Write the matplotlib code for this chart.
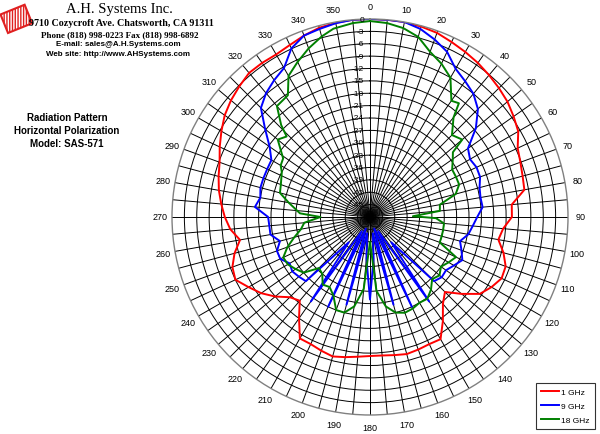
import numpy as np
import matplotlib.pyplot as plt
from matplotlib.patches import Rectangle
from matplotlib.transforms import offset_copy

# 1 GHz
ang_1 = [0, 5, 10, 15, 20, 25, 30, 35, 40, 45, 50, 55, 60, 65, 70, 75, 80, 85,
         90, 95, 100, 105, 110, 115, 120, 125, 130, 135, 140, 145, 150, 155, 160,
         165, 170, 175, 180, 185, 190, 195, 200, 205, 210, 215, 220, 225, 230,
         235, 240, 245, 250, 255, 260, 265, 270, 275, 280, 285, 290, 295, 300,
         305, 310, 315, 320, 325, 330, 335, 340, 345, 350, 355]
db_1 = [0, 0, 0, -0.2, -0.5, -1.2, -1.8, -2.4, -3.1, -3.8, -4.5, -5.5, -6.5, -8.5,
        -9.2, -9.7, -10, -13.5, -13.6, -15.6, -16.4, -14.5, -13, -12.8, -14, -15.5,
        -19, -22.3, -20.5, -17.2, -13.8, -14, -13.8, -13.6, -14, -14.3, -14.3, -14,
        -13.5, -13, -13.5, -14, -14, -18, -21.5, -20.5, -18, -15.8, -14, -12, -12.5,
        -14, -16, -14, -12.8, -11.8, -10.8, -10, -9.2, -7.8, -6.4, -5, -4, -3.2,
        -2.4, -2.4, -2.5, -2, -1.2, -0.5, -0.2, 0]

# 9 GHz
ang_9 = [0, 5, 10, 15, 20, 25, 30, 35, 40, 45, 50, 55, 60, 65, 70, 75, 80, 85,
         90, 95, 100, 105, 110, 115, 120, 125, 130, 135, 140, 145, 150, 155, 160,
         165, 170, 175, 180, 185, 190, 195, 200, 205, 210, 215, 220, 225, 230,
         235, 240, 245, 250, 255, 260, 265, 270, 275, 280, 285, 290, 295, 300,
         305, 310, 315, 320, 325, 330, 335, 340, 345, 350, 355]
db_9 = [0, 0, 0, -0.8, -2.2, -3.8, -6.5, -7.8, -9, -11, -14.5, -19, -20, -19.5,
        -19.6, -20.5, -20.8, -20.6, -22, -23, -23.8, -25.4, -24.4, -23.3, -24.5,
        -25.5, -25.3, -26, -40, -23, -44, -24, -45, -26, -44, -38, -28, -38, -44,
        -26, -45, -24, -44, -23, -40, -26, -25.5, -25, -25.5, -24, -24, -25.4,
        -23.5, -23.5, -23.3, -20, -21, -20.5, -20.5, -20.5, -20.4, -18.3, -14.8,
        -10.6, -8.8, -7.5, -6.3, -2.9, -1.2, -0.8, -0.3, 0]

# 18 GHz
ang_18 = [0, 5, 10, 15, 20, 25, 30, 35, 38, 40, 45, 50, 52, 55, 60, 65, 70, 75,
          80, 85, 89, 91, 95, 100, 105, 110, 115, 120, 125, 130, 135, 140, 145,
          150, 155, 160, 165, 170, 175, 180, 185, 190, 195, 200, 205, 210, 215,
          220, 225, 230, 235, 240, 245, 250, 255, 260, 265, 270, 273, 280, 285,
          290, 297, 300, 304, 310, 314, 316, 320, 326, 330, 335, 340, 345, 349,
          355]
db_18 = [-0.5, -0.8, -1.5, -2.8, -5.4, -7, -9, -13.6, -13, -16.5, -19.9, -18.8,
         -22.5, -23.5, -25, -25, -25, -26.5, -30.8, -31, -37.6, -32, -30, -30, -30,
         -30, -25, -26, -27, -26, -26.7, -25, -23.8, -24, -23.5, -23.3, -24, -26,
         -30, -42, -30.5, -26, -24, -24, -27, -28.4, -28, -30, -30.5, -27, -26, -25,
         -24.8, -26.7, -29, -31, -32, -36, -31, -28, -25.4, -25, -24, -23, -22.6,
         -18.8, -19.9, -17, -12.9, -12.4, -8.5, -6.5, -4.5, -2.7, -1.5, -0.8]

series = [("1 GHz", ang_1, db_1, "#ff0000"),
          ("9 GHz", ang_9, db_9, "#0000ff"),
          ("18 GHz", ang_18, db_18, "#008000")]

rmin = -48
rings = np.arange(-45, 0, 3)
ring_labels = np.arange(0, -48, -3)

fig = plt.figure(figsize=(6, 4.35), dpi=100)
W, H = 600, 435
cx, cy, R = 370, 218, 198
ax = fig.add_axes([(cx - R) / W, (H - cy - R) / H, 2 * R / W, 2 * R / H],
                  projection="polar")
ax.set_theta_zero_location("N")
ax.set_theta_direction(-1)
ax.set_ylim(rmin, 0)
ax.set_yticks(rings)
ax.set_yticklabels([])
ax.set_xticks(np.deg2rad(np.arange(0, 360, 5)))
ax.set_xticklabels([])
ax.grid(True, color="black", linewidth=0.7)
ax.spines["polar"].set_color("#808080")
ax.spines["polar"].set_linewidth(1.0)

lines = []
for name, a, d, col in series:
    a = np.deg2rad(np.append(a, a[0] + 360))
    d = np.append(d, d[0])
    ln, = ax.plot(a, d, color=col, linewidth=1.4, label=name)
    lines.append(ln)

# angle labels
for deg in range(0, 360, 10):
    ax.text(np.deg2rad(deg), 3.0, str(deg), ha="center", va="center",
            fontsize=6.5, family="Liberation Sans", clip_on=False)

# dB labels along the 0 degree spoke
tr = offset_copy(ax.transData, fig=fig, x=-6, y=0, units="dots")
for v in ring_labels:
    ax.text(0, v, str(v), transform=tr, ha="right", va="center",
            fontsize=6, family="Liberation Sans")

# header
logo = Rectangle((8, H - 34), 26, 20, angle=22, transform=None,
                 facecolor="white", edgecolor="#e02020", hatch="||||||",
                 linewidth=1.5)
fig.patches.append(logo)
fig.text(119 / W, 1 - 10 / H, "A.H. Systems Inc.", ha="center", va="center",
         fontsize=10.5, family="Liberation Serif")
fig.text(121 / W, 1 - 24 / H, "9710 Cozycroft Ave. Chatsworth, CA 91311",
         ha="center", va="center", fontsize=7.2, family="Liberation Serif",
         weight="bold")
fig.text(120 / W, 1 - 35 / H, "Phone (818) 998-0223 Fax (818) 998-6892",
         ha="center", va="center", fontsize=6.5, family="Liberation Serif",
         weight="bold")
fig.text(118 / W, 1 - 45 / H, "E-mail: sales@A.H.Systems.com", ha="center",
         va="center", fontsize=5.8, family="Liberation Sans", weight="bold")
fig.text(118 / W, 1 - 54 / H, "Web site: http://www.AHSystems.com",
         ha="center", va="center", fontsize=5.8, family="Liberation Sans",
         weight="bold")

fig.text(67 / W, 1 - 131 / H,
         "Radiation Pattern\nHorizontal Polarization\nModel: SAS-571",
         ha="center", va="center", fontsize=7, family="Liberation Sans",
         weight="bold", linespacing=1.35)

leg = fig.legend(handles=lines, loc="lower right", bbox_to_anchor=(0.998, 0.002),
                 prop={"family": "Liberation Sans", "size": 6}, frameon=True,
                 fancybox=False, edgecolor="black", handlelength=2.2,
                 handletextpad=0.2, labelspacing=0.75, borderpad=0.6)
leg.get_frame().set_linewidth(0.8)

fig.savefig("out.png", dpi=100)
